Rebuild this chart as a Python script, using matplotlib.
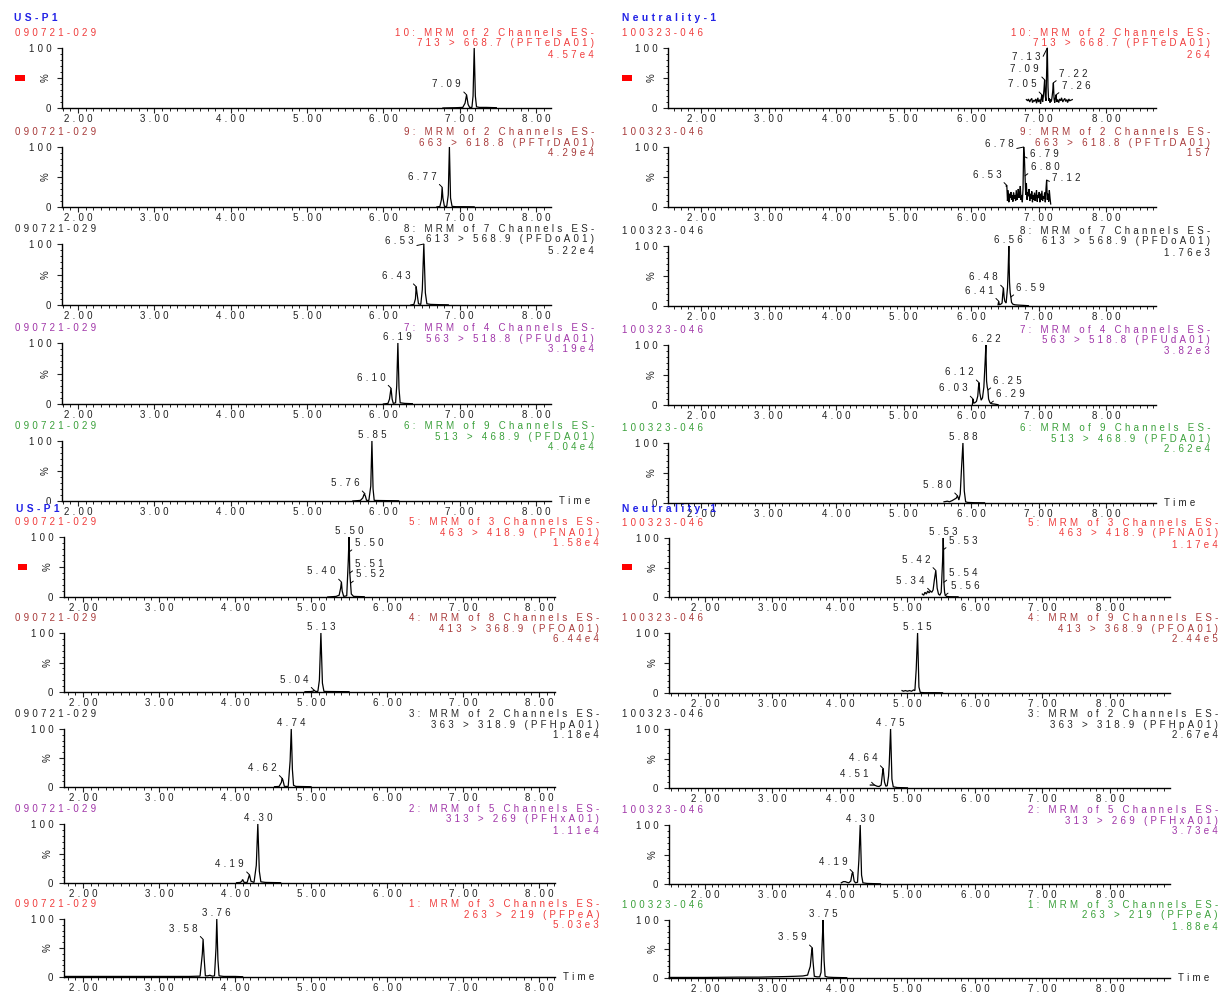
import matplotlib
matplotlib.use('Agg')
import matplotlib.pyplot as plt
from matplotlib.patches import Rectangle
from matplotlib.ticker import MultipleLocator, FixedLocator

W, H = 1219, 994
FAM = ['Liberation Sans', 'DejaVu Sans']
plt.rcParams['font.family'] = FAM
FS = 7.0
SP = '\u2004'


def spaced(s):
    return SP.join(s)

# ---------------------------------------------------------------- data
name_left = 'US-P1'
name_right = 'Neutrality-1'
sample_left = '090721-029'
sample_right = '100323-046'

func_left = ['10: MRM of 2 Channels ES-', '9: MRM of 2 Channels ES-', '8: MRM of 7 Channels ES-',
             '7: MRM of 4 Channels ES-', '6: MRM of 9 Channels ES-', '5: MRM of 3 Channels ES-',
             '4: MRM of 8 Channels ES-', '3: MRM of 2 Channels ES-', '2: MRM of 5 Channels ES-',
             '1: MRM of 3 Channels ES-']
func_right = ['10: MRM of 2 Channels ES-', '9: MRM of 2 Channels ES-', '8: MRM of 7 Channels ES-',
              '7: MRM of 4 Channels ES-', '6: MRM of 9 Channels ES-', '5: MRM of 3 Channels ES-',
              '4: MRM of 9 Channels ES-', '3: MRM of 2 Channels ES-', '2: MRM of 5 Channels ES-',
              '1: MRM of 3 Channels ES-']
transitions = ['713 > 668.7 (PFTeDA01)', '663 > 618.8 (PFTrDA01)', '613 > 568.9 (PFDoA01)',
               '563 > 518.8 (PFUdA01)', '513 > 468.9 (PFDA01)', '463 > 418.9 (PFNA01)',
               '413 > 368.9 (PFOA01)', '363 > 318.9 (PFHpA01)', '313 > 269 (PFHxA01)',
               '263 > 219 (PFPeA)']
inten_left = ['4.57e4', '4.29e4', '5.22e4', '3.19e4', '4.04e4', '1.58e4', '6.44e4', '1.18e4', '1.11e4', '5.03e3']
inten_right = ['264', '157', '1.76e3', '3.82e3', '2.62e4', '1.17e4', '2.44e5', '2.67e4', '3.73e4', '1.88e4']

x_ticks = [2, 3, 4, 5, 6, 7, 8]
x_tick_labels = ['2.00', '3.00', '4.00', '5.00', '6.00', '7.00', '8.00']
y_tick_labels = ['0', '100']

# --- US-P1 traces (time, % intensity)
t_L10 = [6.78, 6.95, 7.04, 7.07, 7.09, 7.11, 7.13, 7.16, 7.175, 7.19, 7.205, 7.22, 7.26, 7.35, 7.48]
i_L10 = [0, 0.5, 1, 8, 22, 6, 1, 1, 20, 100, 20, 2, 1, 1, 0.5]
t_L9 = [6.70, 6.74, 6.76, 6.77, 6.78, 6.80, 6.83, 6.85, 6.865, 6.88, 6.90, 6.95, 7.05, 7.19]
i_L9 = [0, 1, 12, 33, 15, 1, 1, 20, 100, 15, 1, 0.5, 0.5, 0.3]
t_L8 = [6.36, 6.40, 6.42, 6.43, 6.44, 6.46, 6.49, 6.51, 6.53, 6.55, 6.57, 6.62, 6.75, 6.85]
i_L8 = [0, 1, 10, 30, 20, 2, 1, 25, 100, 20, 2, 1, 0.5, 0.3]
t_L7 = [6.00, 6.06, 6.08, 6.10, 6.115, 6.13, 6.16, 6.175, 6.19, 6.205, 6.22, 6.28, 6.38]
i_L7 = [0, 1, 8, 26, 8, 1, 2, 30, 100, 25, 2, 1, 0.5]
t_L6 = [5.60, 5.70, 5.73, 5.75, 5.765, 5.78, 5.81, 5.835, 5.85, 5.865, 5.88, 5.95, 6.20]
i_L6 = [0, 1, 5, 12, 8, 1, 1, 25, 100, 20, 1, 0.8, 0.3]
t_L5 = [5.22, 5.33, 5.37, 5.39, 5.40, 5.41, 5.43, 5.47, 5.49, 5.50, 5.505, 5.51, 5.52, 5.53, 5.56, 5.70]
i_L5 = [0, 1, 3, 15, 25, 10, 1, 2, 60, 100, 75, 40, 23, 5, 1, 0.5]
t_L4 = [4.92, 5.00, 5.03, 5.04, 5.06, 5.09, 5.11, 5.13, 5.15, 5.17, 5.25, 5.50]
i_L4 = [0.5, 0.8, 1.5, 3, 1, 1, 20, 100, 15, 1, 0.8, 0.5]
t_L3 = [4.52, 4.58, 4.61, 4.62, 4.63, 4.65, 4.70, 4.725, 4.74, 4.755, 4.77, 4.80, 5.00]
i_L3 = [0.5, 1, 8, 15, 12, 1, 1, 45, 100, 30, 3, 1, 0.5]
t_L2 = [4.02, 4.07, 4.09, 4.10, 4.12, 4.16, 4.18, 4.19, 4.21, 4.25, 4.28, 4.30, 4.32, 4.34, 4.40, 4.60]
i_L2 = [0.5, 1, 3, 6, 1, 1, 10, 14, 3, 1, 30, 100, 20, 2, 1, 0.5]
t_L1 = [1.76, 2.5, 3.0, 3.4, 3.54, 3.57, 3.58, 3.595, 3.61, 3.64, 3.67, 3.70, 3.73, 3.75, 3.76, 3.775, 3.79, 3.85, 4.00, 4.10]
i_L1 = [1, 1, 1, 1, 1.5, 40, 65, 30, 2, 2, 3, 1.5, 2, 50, 100, 30, 2, 1, 1, 0.5]

# --- Neutrality-1 traces
t_R10 = [6.82, 6.84, 6.85, 6.87, 6.88, 6.90, 6.91, 6.93, 6.94, 6.96,
         6.97, 6.99, 7.00, 7.02, 7.03, 7.04, 7.05, 7.06, 7.07, 7.08,
         7.09, 7.10, 7.11, 7.12, 7.13, 7.14, 7.15, 7.16, 7.17, 7.18,
         7.19, 7.20, 7.21, 7.22, 7.23, 7.24, 7.25, 7.26, 7.27, 7.28,
         7.30, 7.31, 7.33, 7.34, 7.36, 7.37, 7.39, 7.40, 7.42, 7.43,
         7.45, 7.46, 7.48, 7.50]
i_R10 = [14, 12, 15, 10, 13, 16, 9, 13, 11, 15,
         8, 17, 10, 14, 7, 16, 22, 10, 18, 30,
         47, 20, 12, 60, 100, 35, 12, 16, 9, 14,
         11, 18, 28, 42, 15, 9, 17, 22, 10, 14,
         9, 15, 12, 17, 10, 13, 16, 11, 14, 9,
         15, 12, 13, 14]
t_R9 = [6.52, 6.53, 6.54, 6.55, 6.56, 6.57, 6.58, 6.59, 6.60, 6.61,
        6.62, 6.63, 6.64, 6.65, 6.66, 6.67, 6.68, 6.69, 6.70, 6.71,
        6.72, 6.73, 6.74, 6.75, 6.76, 6.77, 6.78, 6.79, 6.80, 6.81,
        6.82, 6.83, 6.84, 6.85, 6.86, 6.87, 6.88, 6.89, 6.90, 6.91,
        6.92, 6.93, 6.94, 6.95, 6.96, 6.97, 6.98, 6.99, 7.00, 7.01,
        7.02, 7.03, 7.04, 7.05, 7.06, 7.07, 7.08, 7.09, 7.10, 7.11,
        7.12, 7.13, 7.14, 7.15, 7.16, 7.17, 7.18]
i_R9 = [35, 36, 10, 28, 8, 22, 15, 25, 12, 20,
        9, 24, 14, 20, 10, 28, 12, 18, 30, 15,
        22, 35, 12, 20, 8, 30, 100, 84, 52, 20,
        40, 12, 25, 18, 30, 10, 22, 14, 26, 8,
        20, 12, 24, 10, 18, 28, 9, 20, 15, 25,
        8, 22, 12, 27, 10, 18, 14, 24, 8, 30,
        45, 12, 22, 9, 28, 15, 5]
t_R8 = [6.40, 6.41, 6.42, 6.44, 6.46, 6.47, 6.48, 6.49, 6.50, 6.52, 6.54, 6.55, 6.56, 6.57, 6.58, 6.59, 6.60, 6.62, 6.65, 6.70, 6.78, 6.85]
i_R8 = [2, 8, 2, 3, 5, 20, 30, 15, 8, 5, 30, 60, 100, 40, 22, 15, 6, 3, 2, 1.5, 1, 0.5]
t_R7 = [6.02, 6.03, 6.04, 6.06, 6.08, 6.10, 6.11, 6.12, 6.13, 6.15, 6.17, 6.19, 6.21, 6.22, 6.23, 6.24, 6.25, 6.26, 6.28, 6.29, 6.31, 6.35, 6.40]
i_R7 = [1, 10, 3, 4, 6, 15, 30, 37, 20, 8, 12, 30, 75, 100, 40, 30, 25, 10, 4, 3, 2, 1.5, 0.5]
t_R6 = [5.60, 5.65, 5.68, 5.72, 5.75, 5.78, 5.80, 5.82, 5.84, 5.86, 5.88, 5.90, 5.92, 5.95, 6.05, 6.20]
i_R6 = [2, 3, 2, 4, 6, 8, 12, 5, 15, 60, 100, 20, 2, 1, 0.5, 0.3]
t_R5 = [5.22, 5.24, 5.26, 5.28, 5.30, 5.32, 5.34, 5.36, 5.38, 5.40, 5.42, 5.44, 5.46, 5.48, 5.50, 5.52, 5.53, 5.535, 5.54, 5.55, 5.56, 5.58, 5.62, 5.75]
i_R5 = [5, 3, 8, 5, 10, 7, 10, 8, 12, 30, 45, 15, 5, 3, 8, 60, 100, 80, 25, 8, 3, 1, 0.5, 0.3]
t_R4 = [4.92, 4.94, 4.97, 5.00, 5.03, 5.06, 5.09, 5.11, 5.13, 5.15, 5.17, 5.19, 5.25, 5.40, 5.52]
i_R4 = [4, 3, 4, 3, 4, 3, 5, 4, 40, 100, 10, 1, 0.5, 0.5, 0.3]
t_R3 = [4.45, 4.50, 4.51, 4.55, 4.58, 4.61, 4.63, 4.64, 4.66, 4.68, 4.70, 4.72, 4.73, 4.75, 4.77, 4.79, 4.85, 5.00]
i_R3 = [5, 5, 5, 3, 2.5, 5, 25, 33, 10, 3, 4, 20, 40, 100, 15, 2, 0.8, 0.3]
t_R2 = [4.02, 4.05, 4.08, 4.10, 4.13, 4.16, 4.18, 4.19, 4.21, 4.23, 4.26, 4.28, 4.30, 4.32, 4.34, 4.40, 4.60]
i_R2 = [2, 4, 4, 3, 2, 5, 18, 20, 5, 2, 3, 40, 100, 15, 2, 1, 0.3]
t_R1 = [1.47, 2.0, 2.5, 2.8, 3.0, 3.2, 3.35, 3.45, 3.52, 3.56, 3.58, 3.59, 3.60, 3.62, 3.66, 3.70, 3.72, 3.74, 3.75, 3.765, 3.78, 3.82, 3.9, 4.1]
i_R1 = [1, 1, 1.5, 1.5, 2, 2.5, 3, 3.5, 5, 20, 45, 52, 30, 3, 2, 2, 10, 70, 100, 30, 3, 1.5, 1, 0.5]

# --- labelled peaks (retention time, apex %)
pk_L10 = [(7.09, 22)]
pk_L9 = [(6.77, 33)]
pk_L8 = [(6.53, 100), (6.43, 30)]
pk_L7 = [(6.19, 100), (6.10, 26)]
pk_L6 = [(5.85, 100), (5.76, 12)]
pk_L5 = [(5.50, 100), (5.50, 75), (5.51, 40), (5.52, 23), (5.40, 25)]
pk_L4 = [(5.13, 100), (5.04, 3)]
pk_L3 = [(4.74, 100), (4.62, 15)]
pk_L2 = [(4.30, 100), (4.19, 14)]
pk_L1 = [(3.76, 100), (3.58, 65)]
pk_R10 = [(7.13, 100), (7.09, 47), (7.05, 22), (7.22, 42), (7.26, 22)]
pk_R9 = [(6.78, 100), (6.79, 84), (6.80, 52), (6.53, 36), (7.12, 45)]
pk_R8 = [(6.56, 100), (6.48, 30), (6.41, 8), (6.59, 15)]
pk_R7 = [(6.22, 100), (6.12, 37), (6.03, 10), (6.25, 25), (6.29, 3)]
pk_R6 = [(5.88, 100), (5.80, 12)]
pk_R5 = [(5.53, 100), (5.53, 80), (5.42, 45), (5.54, 25), (5.34, 10), (5.56, 3)]
pk_R4 = [(5.15, 100)]
pk_R3 = [(4.75, 100), (4.64, 33), (4.51, 5)]
pk_R2 = [(4.30, 100), (4.19, 20)]
pk_R1 = [(3.75, 100), (3.59, 52)]

# ---------------------------------------------------------------- layout / style
RED, BROWN, DARK, PURPLE, GREEN, BLUE = '#F03C3C', '#A83A3A', '#262626', '#A035A8', '#3AA03A', '#2222E6'
col_left = [RED, BROWN, DARK, PURPLE, GREEN, RED, BROWN, DARK, PURPLE, RED]
col_right = [RED, BROWN, DARK, PURPLE, GREEN, RED, BROWN, DARK, PURPLE, GREEN]

side_L = [['l'], ['l'], ['lh', 'l'], ['t', 'l'], ['t', 'l'], ['t', 'r', 'r', 'r', 'l'],
          ['t', 'l'], ['t', 'l'], ['t', 'l'], ['t', 'l']]
side_R = [['ll', 'l', 'l', 'r', 'r'], ['lh', 'rl', 'r', 'l', 'rl'], ['t', 'l', 'l', 'r'],
          ['t', 'l', 'l', 'r', 'r'], ['t', 'l'], ['t', 'r', 'l', 'r', 'l', 'r'], ['t'],
          ['t', 'l', 'l'], ['t', 'l'], ['t', 'l']]
OFF = {'t': (0, 1.0), 'l': (-4, 4), 'r': (4, 3), 'rl': (4, -2), 'lh': (-7, -1.5), 'll': (-5, -10)}

top_L = [48, 147, 244, 343, 441, 537, 633, 729, 824, 919]
bot_L = [108, 207, 305, 404, 501, 597, 692, 787, 883, 977]
top_R = [48, 147, 246, 345, 443, 538, 633, 729, 825, 920]
bot_R = [108, 207, 306, 405, 503, 597, 693, 788, 884, 978]

# (x0 px, x1 px, tmin, tmax) per half
geo_L = [(62, 551, 1.79, 8.196), (64, 555, 1.75, 8.21)]
geo_R = [(668, 1156, 1.511, 8.74), (669, 1170, 1.467, 8.89)]
text_right_L = [594, 599]
text_right_R = [1210, 1218]

fig = plt.figure(figsize=(W / 100, H / 100), dpi=100)


def fx(x):
    return x / W


def fy(y):
    return 1 - y / H


def ftext(x, y, s, color, ha='left', size=FS, weight='normal', bg=None):
    t = fig.text(fx(x), fy(y), spaced(s), color=color, ha=ha, va='center',
                 fontsize=size, fontweight=weight, zorder=10)
    if bg:
        t.set_bbox(dict(facecolor=bg, edgecolor='none', pad=0.3))
    return t


def panel(geo, top, bot, t, y, peaks, sides, col, sample, sx, func, trans, inten, rx, time_lbl):
    x0, x1, tmin, tmax = geo
    ax = fig.add_axes([fx(x0), fy(bot), (x1 - x0) / W, (bot - top) / H])
    ax.patch.set_alpha(0)
    ax.plot(t, y, color='black', lw=0.9, clip_on=False, solid_joinstyle='miter')
    ax.set_xlim(tmin, tmax)
    ax.set_ylim(0, 100)
    for s in ['top', 'right']:
        ax.spines[s].set_visible(False)
    for s in ['left', 'bottom']:
        ax.spines[s].set_linewidth(1.0)
    ax.xaxis.set_major_locator(FixedLocator(x_ticks))
    ax.set_xticklabels([spaced(s) for s in x_tick_labels])
    ax.xaxis.set_minor_locator(MultipleLocator(0.1))
    ax.set_yticks([0, 50, 100])
    ax.set_yticklabels([spaced(y_tick_labels[0]), '', spaced(y_tick_labels[1])])
    ax.yaxis.set_minor_locator(MultipleLocator(10))
    ax.tick_params(which='major', length=3.6, width=0.8, labelsize=FS, direction='out', colors='#222222')
    ax.tick_params(which='minor', length=1.8, width=0.7, direction='out', colors='#222222')
    ax.tick_params(axis='x', which='major', pad=0.5)
    ax.tick_params(axis='y', which='major', pad=4)
    ax.annotate('%', xy=(0, 50), xycoords=('axes fraction', 'data'), xytext=(-11.5, 0),
                textcoords='offset points', rotation=90, ha='center', va='center',
                fontsize=FS, color='#222222')
    for (rt, h), sd in zip(peaks, sides):
        dx, dy = OFF[sd]
        lbl = spaced(f'{rt:.2f}')
        if sd == 't':
            ax.annotate(lbl, xy=(rt, h), xytext=(dx, dy), textcoords='offset points',
                        ha='center', va='bottom', fontsize=FS, color='#222222', annotation_clip=False)
        else:
            right = sd.startswith('r')
            ax.annotate(lbl, xy=(rt, h), xytext=(dx, dy), textcoords='offset points',
                        ha='left' if right else 'right', va='bottom', fontsize=FS, color='#222222',
                        annotation_clip=False,
                        arrowprops=dict(arrowstyle='-', lw=0.7, color='black', shrinkA=0, shrinkB=0,
                                        relpos=(0, 0) if right else (1, 0)))
    ftext(sx, top - 15, sample, col)
    ftext(rx, top - 4.5, trans, col, ha='right')
    ftext(rx, top - 15, func, col, ha='right')
    ftext(rx, top + 6.5, inten, col, ha='right')
    if time_lbl:
        ftext(x1 + 8, bot, 'Time', '#222222')
    return ax


traces_L = [(t_L10, i_L10), (t_L9, i_L9), (t_L8, i_L8), (t_L7, i_L7), (t_L6, i_L6),
            (t_L5, i_L5), (t_L4, i_L4), (t_L3, i_L3), (t_L2, i_L2), (t_L1, i_L1)]
traces_R = [(t_R10, i_R10), (t_R9, i_R9), (t_R8, i_R8), (t_R7, i_R7), (t_R6, i_R6),
            (t_R5, i_R5), (t_R4, i_R4), (t_R3, i_R3), (t_R2, i_R2), (t_R1, i_R1)]
peaks_L = [pk_L10, pk_L9, pk_L8, pk_L7, pk_L6, pk_L5, pk_L4, pk_L3, pk_L2, pk_L1]
peaks_R = [pk_R10, pk_R9, pk_R8, pk_R7, pk_R6, pk_R5, pk_R4, pk_R3, pk_R2, pk_R1]

for k in range(10):
    half = 0 if k < 5 else 1
    tl = k in (4, 9)
    panel(geo_L[half], top_L[k], bot_L[k], traces_L[k][0], traces_L[k][1], peaks_L[k], side_L[k],
          col_left[k], sample_left, 15, func_left[k], transitions[k], inten_left[k],
          text_right_L[half], tl)
    panel(geo_R[half], top_R[k], bot_R[k], traces_R[k][0], traces_R[k][1], peaks_R[k], side_R[k],
          col_right[k], sample_right, 622, func_right[k], transitions[k], inten_right[k],
          text_right_R[half], tl)

# sample names (top of each stacked half)
ftext(14, 18, name_left, BLUE, size=7.4, weight='bold')
ftext(622, 18, name_right, BLUE, size=7.4, weight='bold')
ftext(16, 509, name_left, BLUE, size=7.4, weight='bold', bg='white')
ftext(622, 509, name_right, BLUE, size=7.4, weight='bold')

# red markers
for (x, y, w, h) in [(15, 75, 10, 6), (622, 75, 10, 6), (18, 564, 9, 6), (622, 564, 10, 6)]:
    fig.patches.append(Rectangle((fx(x), fy(y + h)), w / W, h / H, transform=fig.transFigure,
                                 facecolor='#FF0000', edgecolor='none'))

fig.savefig('out.png', dpi=100, facecolor='white')
